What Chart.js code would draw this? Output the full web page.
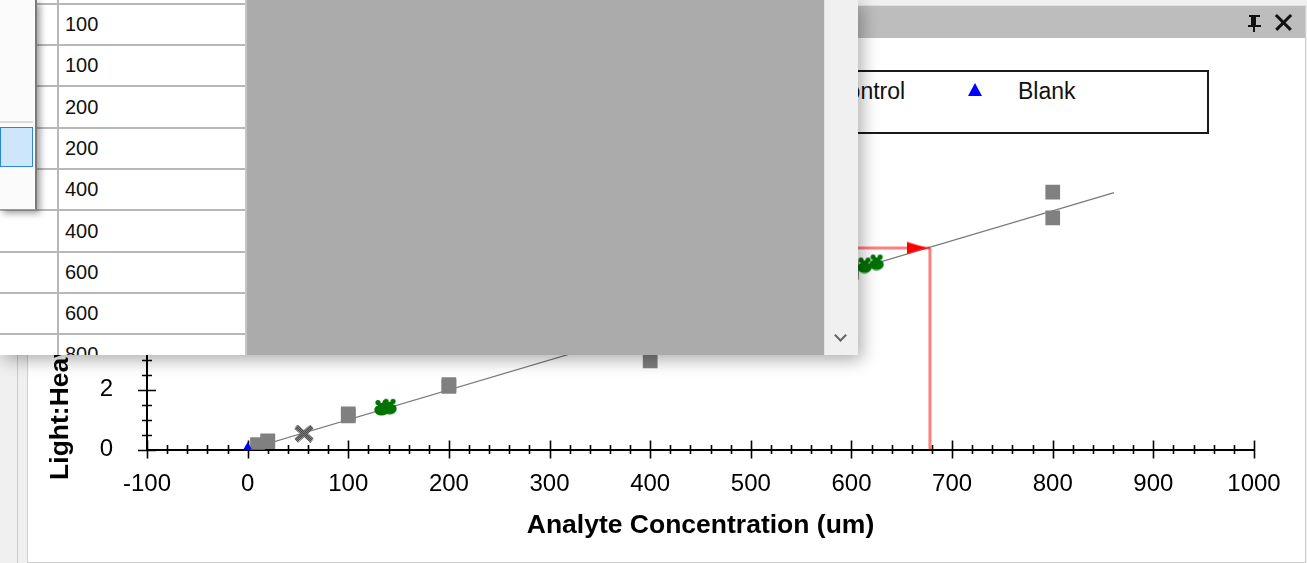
<!DOCTYPE html>
<html>
<head>
<meta charset="utf-8">
<script src="https://cdn.jsdelivr.net/npm/chart.js@4/dist/chart.umd.min.js"></script>
<style>
  html, body { margin: 0; padding: 0; width: 1307px; height: 563px; overflow: hidden; background: #f0f0f0; font-family: "Liberation Sans", Arial, sans-serif; }
  .abs { position: absolute; }
  #vline1 { left: 17px; top: 0; width: 1px; height: 563px; background: #c9c9c9; }
  #panel { left: 27px; top: 5px; width: 1277px; height: 556px; background: #fff; border: 1px solid #cfcfcf; border-top-color: #e2e2e2; }
  #titlebar { left: 28px; top: 6px; width: 1277px; height: 32px; background: #bdbdbd; }
  #chartBox { left: 0; top: 0; width: 1307px; height: 563px; }
  #legendBox { left: 193px; top: 70px; width: 1012px; height: 60px; border: 2px solid #1a1a1a; background: #fff; }
  .legText { font-size: 23px; color: #111; line-height: 26px; top: 78px; white-space: nowrap; }
  /* popup grid */
  #popup { left: 0; top: 0; width: 858px; height: 355px; background: #fff; overflow: hidden;
           box-shadow: 4px 5px 16px rgba(0,0,0,0.32); z-index: 10; }
  #grid { left: 0; top: 0; width: 246px; height: 355px; overflow: hidden; background: #fff; }
  .row { left: 0; width: 246px; height: 41px; border-bottom: 2px solid #b8b8b8; box-sizing: content-box; }
  .cell { left: 65px; top: 10px; font-size: 20px; color: #111; }
  #col1 { left: 57px; top: 0; width: 2px; height: 355px; background: #b8b8b8; }
  #col2 { left: 245px; top: 0; width: 2px; height: 355px; background: #c4c4c4; }
  #grayArea { left: 247px; top: 0; width: 577px; height: 355px; background: #ababab; }
  #scroll { left: 824px; top: 0; width: 33px; height: 355px; background: #f0f0f0; border-left: 1px solid #e4e4e4; border-right: 1px solid #c9c9c9; }
  #chev { left: 836px; top: 331px; width: 7px; height: 7px; border-right: 2px solid #606060; border-bottom: 2px solid #606060; transform: rotate(45deg); }
  #drop { left: 0; top: 0; width: 35px; height: 209px; background: #fbfbfb; border-right: 2px solid #7a7a7a; border-bottom: 1px solid #9a9a9a;
          box-shadow: 3px 3px 7px rgba(0,0,0,0.4); }
  #dropLine { left: 0; top: 121px; width: 33px; height: 2px; background: #dadada; }
  #dropSel { left: 0; top: 127px; width: 31px; height: 38px; background: #cde6f9; border: 1px solid #2b86d9; }
  /* title bar icons */
  #pinTop { left: 1249px; top: 15px; width: 11px; height: 2px; background: #111; }
  #pinBody { left: 1251px; top: 15px; width: 5px; height: 11px; border-left: 2px solid #111; border-right: 3px solid #111; box-sizing: border-box; }
  #pinBase { left: 1248px; top: 25px; width: 13px; height: 2px; background: #111; }
  #pinStem { left: 1253px; top: 27px; width: 2px; height: 5px; background: #111; }
  .xbar { left: 1273px; top: 21px; width: 21px; height: 2.5px; background: #111; }
</style>
</head>
<body>
<div id="vline1" class="abs"></div>
<div id="panel" class="abs"></div>
<div id="titlebar" class="abs"></div>
<div id="pinTop" class="abs"></div><div id="pinBody" class="abs"></div><div id="pinBase" class="abs"></div><div id="pinStem" class="abs"></div>
<div class="abs xbar" style="transform: rotate(45deg)"></div>
<div class="abs xbar" style="transform: rotate(-45deg)"></div>
<div id="legendBox" class="abs"></div>
<div id="legendItems" class="abs" style="left:0;top:0"></div>
<div id="chartBox" class="abs"><canvas id="calib" width="1307" height="563"></canvas></div>

<div id="popup" class="abs">
  <div id="grid" class="abs"></div>
  <div id="col1" class="abs"></div>
  <div id="col2" class="abs"></div>
  <div id="grayArea" class="abs"></div>
  <div id="scroll" class="abs"></div>
  <div id="chev" class="abs"></div>
  <div id="drop" class="abs"><div id="dropLine" class="abs"></div><div id="dropSel" class="abs"></div></div>
</div>

<script>
// -----------------------------
// DATA
// -----------------------------
const seriesLabels = ["Standard", "Unknown", "Control", "Blank"];

// standards (gray squares) - also the concentration column of the grid
const stdConc  = [10, 10, 20, 20, 100, 100, 200, 200, 400, 400, 600, 600, 800, 800];
const stdRatio = [0.14, 0.16, 0.26, 0.29, 1.12, 1.19, 2.10, 2.16, 2.95, 4.05, 5.90, 6.05, 7.72, 8.58];

const unkConc  = [56];
const unkRatio = [0.53];

const ctlConc  = [133, 141, 613, 625];
const ctlRatio = [1.40, 1.44, 6.15, 6.25];

const blankConc  = [0];
const blankRatio = [0];

// regression line end points
const fitConc  = [0, 861];
const fitRatio = [0, 8.56];

// read-back of the selected sample
const resultRatio = 6.72;
const resultConc  = 678;

const xTicksMin = -100, xTicksMax = 1000, xMajor = 100, xMinor = 20;
const yTicksMin = 0, yTicksMax = 10, yMajor = 2, yMinor = 0.5;

// -----------------------------
// MARKER ICONS
// -----------------------------
function controlIcon() {
  const c = document.createElement("canvas");
  c.width = 15; c.height = 17;
  const g = c.getContext("2d");
  g.fillStyle = "#007300";
  g.beginPath(); g.ellipse(7.5, 11, 7.2, 5.6, 0, 0, Math.PI * 2); g.fill();
  g.fillRect(4, 4, 7, 5);
  g.beginPath(); g.arc(4, 3.5, 2.6, 0, Math.PI * 2); g.fill();
  g.beginPath(); g.arc(11, 3.5, 2.6, 0, Math.PI * 2); g.fill();
  return c;
}

function unknownIcon() {
  const pat = document.createElement("canvas");
  pat.width = 2; pat.height = 2;
  const p = pat.getContext("2d");
  p.fillStyle = "#b8b8b8"; p.fillRect(0, 0, 2, 2);
  p.fillStyle = "#111"; p.fillRect(0, 0, 1, 1); p.fillRect(1, 1, 1, 1);
  const c = document.createElement("canvas");
  c.width = 22; c.height = 18;
  const g = c.getContext("2d");
  g.strokeStyle = g.createPattern(pat, "repeat");
  g.lineWidth = 5;
  g.beginPath();
  g.moveTo(3, 2); g.lineTo(19, 16);
  g.moveTo(19, 2); g.lineTo(3, 16);
  g.stroke();
  return c;
}

function arrowIcon() {
  // tip sits 3px left of the point, so the arrow ends at the vertical line
  const c = document.createElement("canvas");
  c.width = 46; c.height = 13;
  const g = c.getContext("2d");
  g.fillStyle = "#ff0000";
  g.beginPath(); g.moveTo(0, 0.5); g.lineTo(20, 6.5); g.lineTo(0, 12.5); g.closePath(); g.fill();
  return c;
}

// -----------------------------
// LEGEND (html, inside the bordered box)
// -----------------------------
const legendColors = ["#808080", "#555555", "#007300", "#0000ff"];
const legendEl = document.getElementById("legendItems");
seriesLabels.forEach((lab, i) => {
  const mx = 414 + 187 * i;
  const mk = document.createElement("div");
  mk.className = "abs";
  if (lab === "Blank") {
    mk.style.cssText = `left:${mx - 7}px;top:83px;width:0;height:0;border-left:7px solid transparent;border-right:7px solid transparent;border-bottom:13px solid ${legendColors[i]};`;
  } else {
    mk.style.cssText = `left:${mx - 7}px;top:84px;width:14px;height:14px;background:${legendColors[i]};`;
  }
  legendEl.appendChild(mk);
  const tx = document.createElement("div");
  tx.className = "abs legText";
  tx.style.left = (mx + 43) + "px";
  tx.innerText = lab;
  legendEl.appendChild(tx);
});

// -----------------------------
// GRID POPUP ROWS (scrolled so row 4 sits at the top)
// -----------------------------
const gridEl = document.getElementById("grid");
const firstShown = 4;
stdConc.forEach((v, i) => {
  const top = Math.round(4 + (i - firstShown) * 41.3);
  const row = document.createElement("div");
  row.className = "abs row";
  row.style.top = (top - 1) + "px";
  const cell = document.createElement("div");
  cell.className = "abs cell";
  cell.innerText = v;
  row.appendChild(cell);
  gridEl.appendChild(row);
});

// -----------------------------
// CHART
// -----------------------------
const toPts = (xs, ys) => xs.map((x, i) => ({ x: x, y: ys[i] }));

const crossTicks = {
  id: "crossTicks",
  beforeDatasetsDraw(chart) {
    const { ctx, scales: { x, y } } = chart;
    const y0 = y.getPixelForValue(yTicksMin);
    const x0 = x.getPixelForValue(xTicksMin);
    ctx.save();
    ctx.strokeStyle = "#000";
    ctx.lineWidth = 1.6;
    ctx.beginPath();
    const nx = Math.round((xTicksMax - xTicksMin) / xMinor);
    for (let i = 0; i <= nx; i++) {
      const v = xTicksMin + i * xMinor;
      const px = Math.round(x.getPixelForValue(v)) + 0.5;
      const h = (v % xMajor === 0) ? 9 : 4.5;
      ctx.moveTo(px, y0 - h); ctx.lineTo(px, y0 + h);
    }
    const ny = Math.round((yTicksMax - yTicksMin) / yMinor);
    for (let i = 0; i <= ny; i++) {
      const v = yTicksMin + i * yMinor;
      const py = Math.round(y.getPixelForValue(v)) + 0.5;
      const w = (i % Math.round(yMajor / yMinor) === 0) ? 9 : 5;
      ctx.moveTo(x0 - w, py); ctx.lineTo(x0 + w, py);
    }
    ctx.stroke();
    ctx.restore();
  }
};

Chart.defaults.font.family = '"Liberation Sans", Arial, sans-serif';
Chart.defaults.color = "#000";

new Chart(document.getElementById("calib"), {
  type: "scatter",
  data: {
    datasets: [
      { label: "Blank", data: toPts(blankConc, blankRatio), pointStyle: "triangle", pointRadius: 7.5,
        backgroundColor: "#0000ff", borderWidth: 0, order: 1 },
      { label: "Control", data: toPts(ctlConc, ctlRatio), pointStyle: controlIcon(), order: 1 },
      { label: "Unknown", data: toPts(unkConc, unkRatio), pointStyle: unknownIcon(), order: 1 },
      { label: "Standard", data: toPts(stdConc, stdRatio), pointStyle: "rect", pointRadius: 10.4,
        backgroundColor: "#808080", borderWidth: 0, order: 1 },
      { label: "Result", data: [{ x: resultConc, y: resultRatio }], pointStyle: arrowIcon(), order: 0 },
      { label: "ResultH", data: [{ x: xTicksMin, y: resultRatio }, { x: resultConc, y: resultRatio }],
        showLine: true, pointRadius: 0, borderColor: "rgba(255,0,0,0.5)", borderWidth: 3, order: 2 },
      { label: "ResultV", data: [{ x: resultConc, y: resultRatio }, { x: resultConc, y: yTicksMin }],
        showLine: true, pointRadius: 0, borderColor: "rgba(255,0,0,0.5)", borderWidth: 3, order: 2 },
      { label: "Fit", data: toPts(fitConc, fitRatio), showLine: true, pointRadius: 0,
        borderColor: "#7a7a7a", borderWidth: 1.3, order: 3 }
    ]
  },
  options: {
    responsive: false,
    animation: false,
    events: [],
    layout: { padding: { left: 45, right: 53, top: 149.5, bottom: 13.5 } },
    plugins: { legend: { display: false }, tooltip: { enabled: false } },
    scales: {
      x: {
        type: "linear", min: xTicksMin, max: xTicksMax,
        ticks: { stepSize: xMajor, padding: 20, maxRotation: 0, autoSkip: false, font: { size: 24 }, color: "#000",
                 callback: v => String(v) },
        grid: { display: false, drawTicks: false },
        border: { display: true, color: "#000", width: 2 },
        title: { display: true, text: "Analyte Concentration (um)", color: "#000",
                 font: { size: 26.5, weight: "bold" }, padding: { top: 0, bottom: 8 } },
        afterFit(s) { s.height = 100; }
      },
      y: {
        type: "linear", min: yTicksMin, max: yTicksMax,
        ticks: { stepSize: yMajor, padding: 34, font: { size: 24 }, color: "#000", callback: v => String(v) },
        grid: { display: false, drawTicks: false },
        border: { display: true, color: "#000", width: 2 },
        title: { display: true, text: "Light:Heavy Peak Area Ratio", color: "#000",
                 font: { size: 26.5, weight: "bold" }, padding: 0 },
        afterFit(s) { s.width = 102; }
      }
    }
  },
  plugins: [crossTicks]
});
</script>
</body>
</html>
